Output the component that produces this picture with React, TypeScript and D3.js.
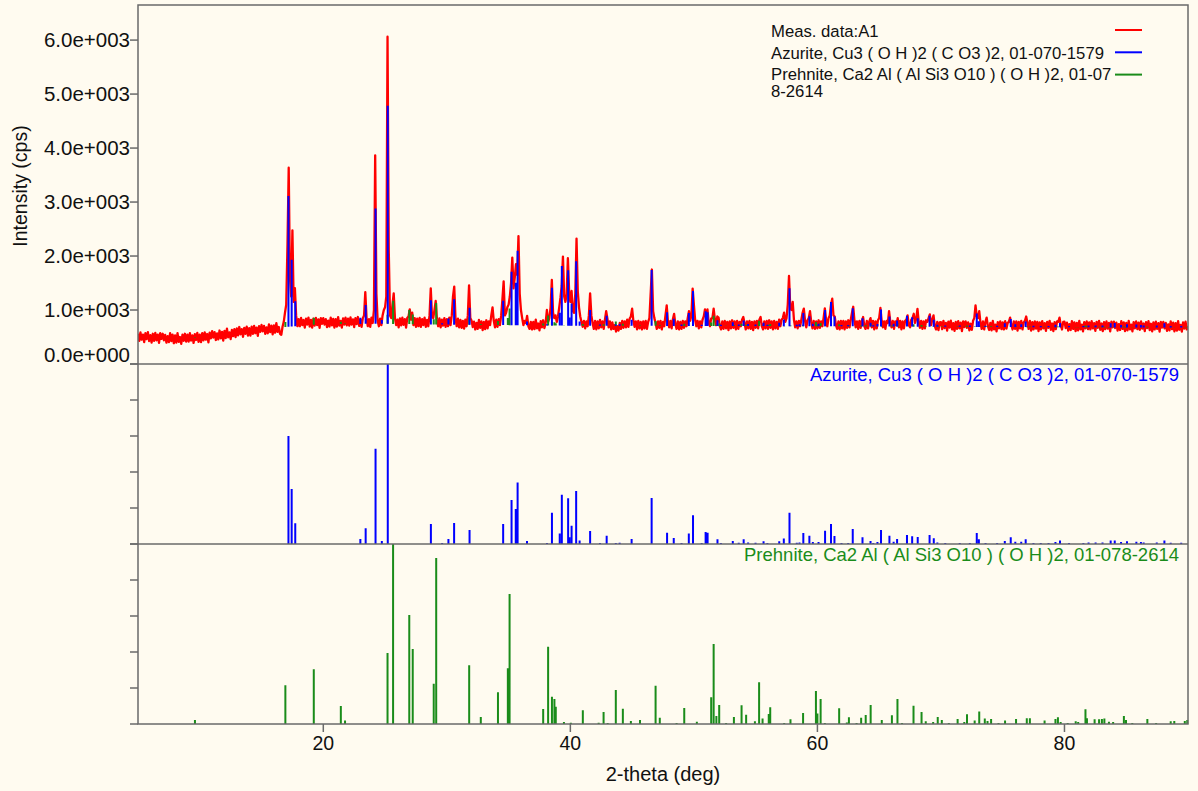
import * as d3 from 'd3';
import { useEffect } from 'react';

const WIDTH = 1198, HEIGHT = 791;
const BG = '#fffbf0';
const FONT = '"Liberation Sans", Arial, sans-serif';
const RED = '#ff0000', BLUE = '#0000ff', GREEN = '#1a8c1a', FRAME = '#6a6a6a';

// measured scan, 5.0 .. 90.0 deg, one row per degree (0.1 deg step)
const SCAN_START = 5;
const SCAN_STEP = 0.1;
const measured = [
    560, 430, 585, 450, 545, 405, 570, 460, 590, 425, // 5
    535, 395, 560, 430, 575, 440, 545, 390, 570, 465, // 6
    560, 440, 540, 395, 515, 405, 570, 425, 545, 385, // 7
    530, 395, 570, 410, 500, 375, 545, 430, 560, 415, // 8
    545, 415, 570, 435, 530, 390, 555, 445, 575, 410, // 9
    545, 405, 570, 440, 585, 450, 555, 400, 580, 475, // 10
    610, 490, 590, 445, 565, 455, 620, 475, 595, 435, // 11
    615, 480, 655, 495, 585, 460, 630, 515, 645, 500, // 12
    660, 530, 685, 550, 645, 505, 670, 560, 690, 525, // 13
    665, 525, 690, 560, 705, 570, 675, 520, 700, 595, // 14
    725, 605, 705, 560, 680, 570, 735, 590, 710, 550, // 15
    715, 580, 755, 595, 685, 560, 540, 690, 780, 950, // 16
    1100, 2200, 3637, 1600, 1250, 2476, 1150, 1407, 900, 700, // 17
    830, 700, 855, 720, 815, 675, 840, 730, 860, 695, // 18
    815, 675, 840, 710, 855, 720, 825, 670, 850, 745, // 19
    850, 730, 830, 685, 805, 695, 860, 715, 835, 675, // 20
    830, 695, 870, 710, 800, 675, 845, 730, 860, 715, // 21
    840, 710, 865, 730, 825, 685, 850, 740, 870, 705, // 22
    820, 690, 850, 900, 1333, 860, 700, 830, 690, 860, // 23
    760, 1000, 3865, 1300, 800, 700, 840, 720, 900, 1000, // 24
    1050, 1250, 6063, 2100, 900, 850, 1100, 1309, 850, 720, // 25
    820, 680, 845, 715, 860, 725, 830, 675, 855, 880, // 26
    1013, 820, 950, 720, 850, 690, 840, 700, 855, 690, // 27
    830, 720, 860, 690, 815, 700, 900, 1402, 880, 850, // 28
    1000, 1167, 830, 700, 845, 680, 820, 710, 850, 690, // 29
    830, 700, 860, 720, 900, 1250, 1433, 850, 700, 840, // 30
    680, 815, 670, 800, 655, 820, 700, 900, 1457, 850, // 31
    805, 685, 785, 640, 760, 650, 815, 670, 790, 630, // 32
    780, 645, 810, 660, 790, 720, 900, 1050, 800, 680, // 33
    820, 690, 830, 720, 900, 1200, 1530, 900, 950, 1050, // 34
    1100, 1250, 1500, 1970, 1400, 1600, 1850, 1650, 2370, 1300, // 35
    1000, 850, 720, 800, 760, 889, 700, 650, 780, 640, // 36
    780, 645, 820, 660, 750, 625, 795, 680, 810, 665, // 37
    760, 1000, 780, 850, 1050, 1556, 950, 850, 900, 780, // 38
    880, 1050, 1229, 1450, 1989, 1250, 1150, 1300, 1960, 1350, // 39
    1150, 1352, 980, 950, 1300, 2322, 1350, 1050, 880, 780, // 40
    690, 800, 660, 790, 700, 900, 1310, 900, 760, 650, // 41
    800, 640, 790, 660, 815, 680, 790, 650, 820, 980, // 42
    840, 680, 790, 640, 770, 650, 720, 600, 700, 620, // 43
    760, 650, 800, 670, 790, 680, 820, 690, 840, 880, // 44
    1026, 800, 690, 790, 640, 800, 660, 780, 640, 790, // 45
    660, 800, 650, 780, 850, 1300, 1750, 980, 850, 760, // 46
    650, 790, 670, 800, 640, 780, 700, 900, 1087, 780, // 47
    680, 800, 660, 830, 930, 740, 650, 790, 640, 780, // 48
    650, 800, 670, 790, 700, 850, 980, 800, 900, 1396, // 49
    1100, 820, 700, 800, 660, 790, 680, 820, 880, 1013, // 50
    860, 1010, 760, 700, 840, 850, 1026, 820, 720, 880, // 51
    860, 700, 640, 790, 650, 800, 660, 780, 630, 790, // 52
    660, 810, 670, 790, 640, 800, 650, 780, 700, 820, // 53
    870, 760, 640, 790, 660, 800, 650, 780, 630, 790, // 54
    670, 800, 660, 820, 870, 700, 640, 790, 660, 800, // 55
    650, 810, 670, 790, 640, 800, 660, 780, 650, 820, // 56
    700, 820, 850, 950, 780, 850, 1100, 1630, 1050, 1000, // 57
    1150, 820, 680, 790, 660, 800, 700, 820, 950, 1026, // 58
    800, 680, 810, 850, 980, 780, 660, 800, 650, 790, // 59
    660, 810, 670, 790, 700, 850, 1032, 820, 700, 850, // 60
    900, 1100, 1211, 900, 880, 720, 650, 790, 640, 800, // 61
    660, 800, 640, 790, 670, 810, 680, 820, 950, 1060, // 62
    800, 680, 790, 650, 800, 670, 800, 870, 700, 650, // 63
    800, 660, 790, 850, 680, 800, 640, 790, 660, 810, // 64
    850, 1040, 800, 680, 790, 650, 800, 760, 980, 780, // 65
    680, 800, 650, 790, 720, 850, 680, 800, 640, 790, // 66
    660, 800, 820, 900, 720, 680, 820, 850, 930, 760, // 67
    840, 1020, 780, 670, 800, 650, 790, 660, 810, 780, // 68
    850, 920, 720, 820, 900, 700, 640, 780, 630, 770, // 69
    775, 645, 800, 665, 760, 620, 785, 675, 805, 640, // 70
    755, 615, 780, 650, 795, 660, 765, 610, 790, 685, // 71
    790, 670, 770, 625, 745, 635, 800, 850, 1087, 880, // 72
    850, 980, 760, 650, 790, 640, 780, 860, 700, 630, // 73
    760, 625, 800, 640, 730, 605, 775, 660, 790, 645, // 74
    770, 640, 795, 655, 760, 780, 860, 720, 640, 790, // 75
    650, 790, 620, 780, 660, 800, 640, 770, 800, 880, // 76
    760, 650, 800, 620, 775, 640, 790, 655, 780, 610, // 77
    770, 640, 795, 660, 755, 615, 780, 670, 800, 635, // 78
    750, 610, 775, 645, 790, 780, 860, 720, 640, 780, // 79
    785, 665, 765, 620, 740, 630, 795, 650, 770, 610, // 80
    760, 625, 800, 640, 730, 605, 775, 660, 790, 645, // 81
    770, 640, 795, 660, 755, 615, 780, 670, 800, 635, // 82
    750, 610, 775, 645, 790, 655, 760, 605, 785, 680, // 83
    785, 665, 765, 620, 740, 630, 795, 650, 770, 610, // 84
    760, 625, 800, 640, 730, 605, 775, 660, 790, 645, // 85
    765, 635, 790, 655, 750, 610, 775, 665, 795, 630, // 86
    745, 605, 770, 640, 785, 650, 755, 600, 780, 675, // 87
    780, 660, 760, 615, 735, 625, 790, 645, 765, 605, // 88
    755, 620, 795, 635, 725, 600, 770, 655, 785, 640, // 89
    700, // 90
];

// reference pattern sticks: [2-theta, relative intensity %]
const azuriteSticks = [
    [17.18, 60], [17.44, 30.6], [17.73, 11.5], [23.0, 2.8], [23.43, 8.7], [24.23, 52.9], [24.74, 1.7], [25.22, 100],
    [28.71, 11.1], [29.62, 0.6], [30.13, 2.8], [30.59, 11.7], [31.84, 7.8], [34.56, 11.1], [35.24, 24.5], [35.58, 19.5],
    [35.73, 34.1], [36.49, 1.7], [38.11, 0.6], [38.51, 17.3], [39.14, 5.9], [39.31, 27.3], [39.82, 25.4], [39.93, 3.7],
    [40.1, 10.2], [40.47, 29.5], [40.75, 1.9], [41.6, 7.2], [42.4, 0.6], [42.94, 4.6], [43.68, 0.6], [43.99, 0.7],
    [44.96, 2.8], [46.58, 25.6], [47.83, 6.3], [48.37, 3.3], [49.0, 0.6], [49.59, 5.9], [49.93, 16], [50.63, 0.6],
    [50.95, 6.7], [51.11, 6.3], [51.91, 2.6], [52.19, 0.6], [53.15, 1.7], [53.63, 0.7], [54.03, 2.6], [54.39, 0.9],
    [54.99, 0.7], [55.64, 1.5], [55.95, 0.6], [56.91, 1.5], [57.28, 3], [57.74, 17.4], [58.33, 0.7], [58.55, 0.9],
    [58.86, 6.1], [59.35, 4.6], [59.63, 1.1], [60.09, 1.1], [60.62, 7.4], [61.1, 11.1], [61.38, 4.5], [61.95, 0.6],
    [62.49, 0.6], [62.86, 8.3], [63.65, 3.7], [64.3, 1.7], [64.52, 0.6], [64.86, 1.1], [65.15, 7.8], [65.83, 4.6],
    [66.17, 1.3], [66.45, 2.8], [67.25, 5], [67.67, 4.3], [68.12, 3.9], [69.08, 5], [69.42, 3.2], [69.71, 0.9],
    [70.35, 0.6], [71.52, 0.6], [72.34, 0.6], [72.9, 6.1], [73.07, 2.6], [73.61, 0.6], [74.55, 0.6], [75.17, 1.7],
    [75.65, 3.7], [76.02, 1.3], [76.5, 1.3], [76.86, 2.6], [77.49, 0.6], [78.08, 0.6], [78.71, 0.6], [79.27, 1.1],
    [79.64, 2], [80.37, 0.6], [81.53, 0.6], [81.95, 0.9], [82.52, 0.9], [83.08, 0.9], [83.74, 1.9], [84.07, 2],
    [84.58, 1.1], [85.06, 1.5], [85.82, 1.3], [86.19, 1.1], [86.41, 0.9], [87.47, 0.9], [88.09, 2], [88.6, 0.7],
    [89.45, 0.7],
];

const prehniteSticks = [
    [9.61, 2.2], [16.93, 21.5], [19.23, 30.4], [21.42, 10], [21.76, 2], [25.2, 39.5], [25.65, 100], [26.96, 60.5],
    [27.24, 41.7], [28.94, 22.3], [29.14, 92.2], [31.81, 32.7], [32.75, 3.9], [34.14, 17.6], [34.94, 31], [35.08, 72.2],
    [37.8, 8.3], [38.2, 42.9], [38.51, 15.2], [38.71, 13.9], [38.82, 9.6], [39.48, 1.1], [40.04, 0.7], [41.01, 7.6],
    [42.29, 0.7], [42.69, 6.7], [43.02, 0.6], [43.68, 18.9], [44.25, 8.5], [44.9, 1.7], [45.64, 2.2], [46.9, 21.2],
    [47.24, 3.5], [48.6, 0.6], [49.22, 8.9], [50.24, 1.3], [51.4, 14.8], [51.6, 44.5], [51.82, 4.5], [52.05, 10.6],
    [52.61, 0.6], [53.24, 3.9], [53.86, 10.4], [54.23, 5.2], [54.94, 1.5], [55.28, 23.2], [55.56, 3], [56.06, 5.6],
    [56.18, 9.3], [57.31, 0.6], [57.82, 2.6], [58.84, 6.1], [59.88, 18.4], [60.0, 5.9], [60.26, 13.9], [60.6, 0.6],
    [61.76, 8.7], [62.38, 0.9], [62.55, 3.7], [63.17, 0.6], [63.54, 3.5], [63.91, 5], [64.31, 10.6], [65.21, 2.2],
    [66.03, 4.8], [66.48, 13.9], [66.85, 0.6], [67.78, 10.2], [68.43, 6.7], [68.77, 1.5], [69.37, 1.1], [69.74, 3.9],
    [70.07, 2.2], [70.64, 0.6], [71.35, 2.8], [71.89, 1.1], [72.11, 5.4], [72.73, 2], [73.1, 6.9], [73.55, 3],
    [73.77, 1.7], [74.06, 2.8], [74.66, 0.6], [75.19, 2], [76.08, 2.8], [76.95, 3.2], [77.2, 3.2], [78.39, 2],
    [79.27, 2.8], [79.47, 3.7], [79.69, 1.1], [80.26, 0.6], [80.91, 1.5], [81.11, 1.1], [81.7, 8.2], [81.82, 3.2],
    [82.44, 2.6], [82.8, 2.6], [83.03, 2.8], [83.23, 3], [83.6, 1.3], [83.94, 1.1], [84.81, 4.5], [84.98, 2.2],
    [85.49, 0.6], [86.71, 2.8], [87.42, 0.6], [88.6, 1.5], [88.89, 1.7], [89.74, 1.7], [89.94, 2.2],
];

// background level the overlaid sticks stand on (cps)
const bgAngles = [5, 10, 15, 17, 20, 25, 30, 40, 50, 60, 70, 80, 90];
const bgCounts = [480, 490, 640, 685, 740, 745, 730, 710, 705, 700, 690, 680, 675];
// full-scale of the overlaid sticks in the top panel (cps)
const AZURITE_SCALE = 4040;
const PREHNITE_SCALE = 430;

const yTicks = [0, 1000, 2000, 3000, 4000, 5000, 6000];
const yTickLabels = ['0.0e+000', '1.0e+003', '2.0e+003', '3.0e+003', '4.0e+003', '5.0e+003', '6.0e+003'];
const relTicks = [0, 20, 40, 60, 80, 100];
const xTicks = [20, 40, 60, 80];

const legendItems = [
    { lines: ['Meas. data:A1'], color: RED },
    { lines: ['Azurite, Cu3 ( O H )2 ( C O3 )2, 01-070-1579'], color: BLUE },
    { lines: ['Prehnite, Ca2 Al ( Al Si3 O10 ) ( O H )2, 01-07', '8-2614'], color: GREEN },
];

const L = 138, R = 1188, T = 5, MID_TOP = 364, BOT_TOP = 544, B = 724;

const App = () => {
    useEffect(() => {
        document.body.style.margin = '0';
        document.body.style.background = BG;
    }, []);

    const x = d3.scaleLinear().domain([5, 90]).range([L, R]);
    const yTop = d3.scaleLinear().domain([0, 6650]).range([MID_TOP, T]);
    const yMid = d3.scaleLinear().domain([0, 100]).range([BOT_TOP, MID_TOP]);
    const yBot = d3.scaleLinear().domain([0, 100]).range([B, BOT_TOP]);
    const base = d3.scaleLinear().domain(bgAngles).range(bgCounts);

    const line = d3.line<number>()
        .x((_, i) => x(SCAN_START + i * SCAN_STEP))
        .y(d => yTop(d));

    const overlay = (sticks: number[][], scale: number) =>
        sticks.map(([a, r]) => {
            const b = base(a);
            return `M${x(a)},${yTop(b)}V${yTop(b + (r / 100) * scale)}`;
        }).join('');

    const panelSticks = (sticks: number[][], y: d3.ScaleLinear<number, number>) =>
        sticks.map(([a, r]) => `M${x(a)},${y(0)}V${y(r)}`).join('');

    return (
        <svg width={WIDTH} height={HEIGHT} style={{ position: 'absolute', left: 0, top: 0, display: 'block' }}
            fontFamily={FONT}>
            <rect x={0} y={0} width={WIDTH} height={HEIGHT} fill={BG} />
            <defs>
                <clipPath id="clipTop"><rect x={L} y={T} width={R - L} height={MID_TOP - T} /></clipPath>
            </defs>

            {/* top panel: measured scan with both patterns overlaid */}
            <g clipPath="url(#clipTop)">
                <path d={line(measured) ?? ''} fill="none" stroke={RED} strokeWidth={2.3} strokeLinejoin="round" />
                <path d={overlay(prehniteSticks, PREHNITE_SCALE)} stroke={GREEN} strokeWidth={2} />
                <path d={overlay(azuriteSticks, AZURITE_SCALE)} stroke={BLUE} strokeWidth={2} />
            </g>

            {/* middle + bottom panels: stick patterns */}
            <path d={panelSticks(azuriteSticks, yMid)} stroke={BLUE} strokeWidth={2} />
            <path d={panelSticks(prehniteSticks, yBot)} stroke={GREEN} strokeWidth={2} />

            {/* frames */}
            <rect x={L} y={T} width={R - L} height={B - T} fill="none" stroke={FRAME} strokeWidth={1.5} />
            <line x1={L} x2={R} y1={MID_TOP} y2={MID_TOP} stroke={FRAME} strokeWidth={1.5} />
            <line x1={L} x2={R} y1={BOT_TOP} y2={BOT_TOP} stroke={FRAME} strokeWidth={1.5} />

            {/* y axis of top panel */}
            {yTicks.map((t, i) => (
                <g key={t}>
                    <line x1={L - 8} x2={L} y1={yTop(t)} y2={yTop(t)} stroke={FRAME} strokeWidth={1.5} />
                    <text x={130} y={t === 0 ? yTop(t) - 9 : yTop(t)} dy="0.36em" textAnchor="end" fontSize={20.5} fill="#111">
                        {yTickLabels[i]}
                    </text>
                </g>
            ))}
            <text transform={`translate(26.5,186) rotate(-90)`} textAnchor="middle" fontSize={19.5} fill="#111">
                Intensity (cps)
            </text>

            {/* unlabelled ticks of stick panels */}
            {relTicks.map(t => (
                <g key={t}>
                    <line x1={L - 8} x2={L} y1={yMid(t)} y2={yMid(t)} stroke={FRAME} strokeWidth={1.5} />
                    <line x1={L - 8} x2={L} y1={yBot(t)} y2={yBot(t)} stroke={FRAME} strokeWidth={1.5} />
                </g>
            ))}

            {/* x axis */}
            {xTicks.map(t => (
                <g key={t}>
                    <line x1={x(t)} x2={x(t)} y1={B} y2={B + 8} stroke={FRAME} strokeWidth={1.5} />
                    <text x={x(t)} y={750} textAnchor="middle" fontSize={19.5} fill="#111">{t}</text>
                </g>
            ))}
            <text x={(L + R) / 2} y={781} textAnchor="middle" fontSize={20} fill="#111">2-theta (deg)</text>

            {/* panel captions */}
            <text x={1179} y={381} textAnchor="end" fontSize={18.5} fill={BLUE}>
                Azurite, Cu3 ( O H )2 ( C O3 )2, 01-070-1579
            </text>
            <text x={1179} y={561} textAnchor="end" fontSize={18.5} fill={GREEN}>
                Prehnite, Ca2 Al ( Al Si3 O10 ) ( O H )2, 01-078-2614
            </text>

            {/* legend */}
            {legendItems.map((item, i) => (
                <g key={i}>
                    <text x={771} y={37 + i * 21.5} fontSize={16.7} fill="#111">
                        {item.lines.map((s, j) => (
                            <tspan key={j} x={771} dy={j === 0 ? 0 : 16.7}>{s}</tspan>
                        ))}
                    </text>
                    <line x1={1115} x2={1142} y1={30 + i * 22.3} y2={30 + i * 22.3} stroke={item.color} strokeWidth={2} />
                </g>
            ))}
        </svg>
    );
};

export default App;
